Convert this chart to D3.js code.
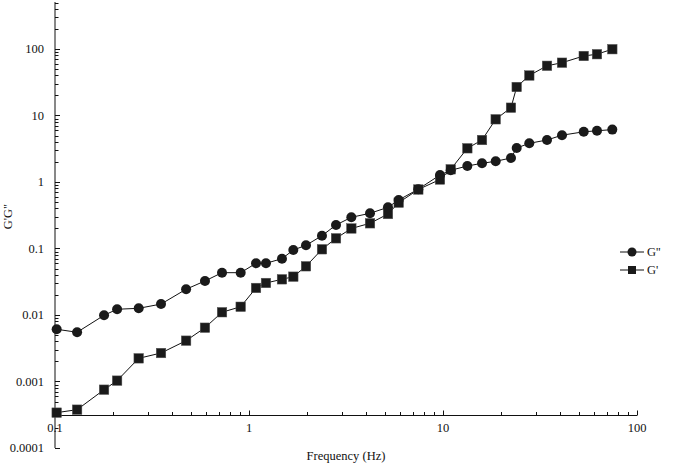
<!DOCTYPE html>
<html>
<head>
<meta charset="utf-8">
<script src="https://cdn.jsdelivr.net/npm/d3@7"></script>
<style>
  html, body { margin: 0; padding: 0; background: #fff; }
  svg { display: block; font-family: "Liberation Serif", "Times New Roman", serif; }
</style>
</head>
<body>
<svg id="chart" width="685" height="464"></svg>
<script>
// Frequency (Hz), shared by both series
const frequency = [0.102, 0.130, 0.179, 0.209, 0.270, 0.352, 0.474, 0.593, 0.726, 0.906,
  1.087, 1.223, 1.479, 1.692, 1.967, 2.378, 2.809, 3.369, 4.205, 5.205,
  5.911, 7.459, 9.65, 10.96, 13.35, 15.89, 18.69, 22.41, 23.98, 27.85,
  34.37, 41.06, 53.14, 62.2, 74.6];
// G'' (loss modulus) — circles
const gLoss = [0.0061, 0.0055, 0.0099, 0.0122, 0.0126, 0.0146, 0.0244, 0.0325, 0.0433, 0.0433,
  0.0599, 0.0599, 0.0703, 0.0949, 0.1117, 0.1558, 0.2257, 0.2945, 0.3383, 0.4165,
  0.5362, 0.78, 1.274, 1.5, 1.74, 1.911, 2.048, 2.296, 3.245, 3.819,
  4.28, 5.055, 5.687, 5.888, 6.137];
// G' (storage modulus) — squares
const gStorage = [0.00034, 0.000377, 0.000753, 0.00103, 0.00223, 0.00268, 0.00411, 0.00644, 0.0110, 0.0133,
  0.0255, 0.0303, 0.0344, 0.0377, 0.054, 0.0973, 0.1423, 0.2, 0.2393, 0.330,
  0.489, 0.771, 1.09, 1.552, 3.212, 4.28, 8.769, 13.1, 26.83, 39.95,
  55.9, 62.2, 78.5, 83.5, 99.3];
const xTickValues = [0.1, 1, 10, 100];
const xTickLabels = ["0.1", "1", "10", "100"];
const yTickValues = [0.0001, 0.001, 0.01, 0.1, 1, 10, 100];
const yTickLabels = ["0.0001", "0.001", "0.01", "0.1", "1", "10", "100"];
const seriesNames = ["G''", "G'"];
const xTitle = "Frequency (Hz)";
const yTitle = "G'G''";
const axisCross = Math.pow(10, -3.5);

const svg = d3.select("#chart");
const ink = "#111";

const x = d3.scaleLog().domain([0.1, 100]).range([55, 637]);
const y = d3.scaleLog().domain([0.0001, 509]).range([448, 2]);

// Y axis (ticks inside, pointing right)
const yMinor = y.ticks().filter(v => v >= 0.0001 && v <= 509);
const yAxisG = svg.append("g").attr("transform", `translate(${x(0.1)},0)`);
yAxisG.append("line").attr("x1", 0).attr("x2", 0).attr("y1", y.range()[1]).attr("y2", y.range()[0])
  .attr("stroke", ink).attr("stroke-width", 1);
yAxisG.selectAll("line.minor").data(yMinor).join("line").attr("class", "minor")
  .attr("x1", 0).attr("x2", d => yTickValues.some(t => Math.abs(t - d) / t < 1e-6) ? 5 : 3.5)
  .attr("y1", d => Math.round(y(d)) + 0.5).attr("y2", d => Math.round(y(d)) + 0.5)
  .attr("stroke", ink).attr("stroke-width", 1);
svg.append("g").selectAll("text").data(yTickValues).join("text")
  .attr("x", 44).attr("y", d => y(d)).attr("dy", "0.35em")
  .attr("text-anchor", "end").attr("font-size", 12.5).attr("fill", ink)
  .text((d, i) => yTickLabels[i]);

// X axis (ticks inside, pointing up)
const xAxisY = Math.round(y(axisCross)) + 0.5;
const xMinor = x.ticks().filter(v => v >= 0.1 && v <= 100);
const xAxisG = svg.append("g").attr("transform", `translate(0,${xAxisY})`);
xAxisG.append("line").attr("x1", x.range()[0]).attr("x2", x.range()[1]).attr("y1", 0).attr("y2", 0)
  .attr("stroke", ink).attr("stroke-width", 1);
xAxisG.selectAll("line.minor").data(xMinor).join("line").attr("class", "minor")
  .attr("x1", d => Math.round(x(d)) + 0.5).attr("x2", d => Math.round(x(d)) + 0.5)
  .attr("y1", 0).attr("y2", d => xTickValues.some(t => Math.abs(t - d) / t < 1e-6) ? -5 : -3.5)
  .attr("stroke", ink).attr("stroke-width", 1);
svg.append("g").selectAll("text").data(xTickValues).join("text")
  .attr("x", d => x(d)).attr("y", xAxisY + 16)
  .attr("text-anchor", "middle").attr("font-size", 12.5).attr("fill", ink)
  .text((d, i) => xTickLabels[i]);

// Titles
svg.append("text").attr("x", 346).attr("y", 460).attr("text-anchor", "middle")
  .attr("font-size", 12.5).attr("fill", ink).text(xTitle);
svg.append("text").attr("transform", `translate(12,${y(0.3)}) rotate(-90)`)
  .attr("text-anchor", "middle").attr("font-size", 12.5).attr("fill", ink).text(yTitle);

// Series
const lossData = frequency.map((f, i) => [f, gLoss[i]]);
const storeData = frequency.map((f, i) => [f, gStorage[i]]);
const line = d3.line().x(d => x(d[0])).y(d => y(d[1]));

svg.append("path").datum(storeData).attr("d", line).attr("fill", "none").attr("stroke", ink).attr("stroke-width", 1);
svg.append("path").datum(lossData).attr("d", line).attr("fill", "none").attr("stroke", ink).attr("stroke-width", 1);

svg.append("g").selectAll("rect").data(storeData).join("rect")
  .attr("x", d => x(d[0]) - 4.75).attr("y", d => y(d[1]) - 4.75)
  .attr("width", 9.5).attr("height", 9.5).attr("fill", "#1a1a1a").attr("stroke", "#555").attr("stroke-width", 0.5);
svg.append("g").selectAll("circle").data(lossData).join("circle")
  .attr("cx", d => x(d[0])).attr("cy", d => y(d[1])).attr("r", 5).attr("fill", "#1a1a1a");

// Legend
const legend = svg.append("g");
const legY = [252, 270];
seriesNames.forEach((name, i) => {
  const g = legend.append("g").attr("transform", `translate(0,${legY[i]})`);
  g.append("line").attr("x1", 620).attr("x2", 644).attr("y1", 0).attr("y2", 0).attr("stroke", ink).attr("stroke-width", 1);
  if (i === 0) g.append("circle").attr("cx", 632).attr("cy", 0).attr("r", 4.5).attr("fill", "#1a1a1a");
  else g.append("rect").attr("x", 628).attr("y", -4).attr("width", 8).attr("height", 8).attr("fill", "#1a1a1a");
  g.append("text").attr("x", 647).attr("y", 0).attr("dy", "0.35em").attr("font-size", 12.5).attr("fill", ink).text(name);
});
</script>
</body>
</html>
